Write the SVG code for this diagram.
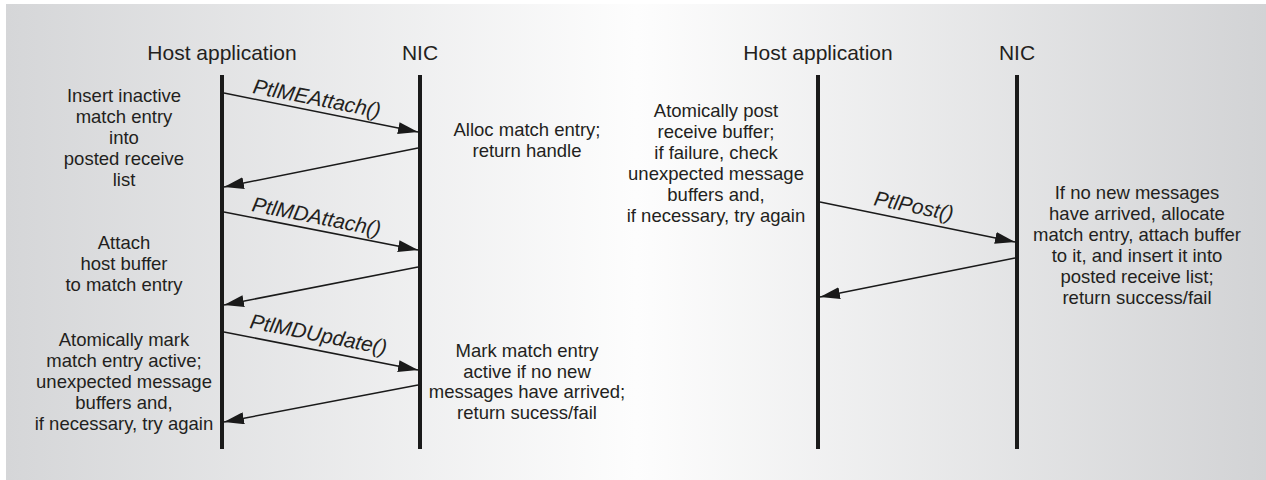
<svg xmlns="http://www.w3.org/2000/svg" width="1266" height="480" viewBox="0 0 1266 480">
  <defs>
    <linearGradient id="bg" x1="0" y1="0" x2="1" y2="0">
      <stop offset="0" stop-color="#d5d6d8"/>
      <stop offset="0.5" stop-color="#fdfdfd"/>
      <stop offset="1" stop-color="#d2d3d5"/>
    </linearGradient>
    <marker id="ah" markerUnits="userSpaceOnUse" markerWidth="20" markerHeight="12" refX="20" refY="6" orient="auto" viewBox="0 0 20 12">
      <path d="M0,0 L20,6 L0,12 Z" fill="#1a1a1a"/>
    </marker>
    <style>
      .hdr { font-family: "Liberation Sans", Arial, sans-serif; font-size: 21px; fill: #231f20; text-anchor: middle; }
      .txt { font-family: "Liberation Sans", Arial, sans-serif; font-size: 18.5px; fill: #231f20; text-anchor: middle; }
      .lbl { font-family: "Liberation Sans", Arial, sans-serif; font-size: 21px; font-style: italic; fill: #231f20; }
      .life { stroke: #1a1a1a; stroke-width: 4; fill: none; }
      .msg { stroke: #1a1a1a; stroke-width: 1.5; fill: none; marker-end: url(#ah); }
    </style>
  </defs>
  <rect x="6" y="4" width="1260" height="476" fill="url(#bg)"/>

  <g id="left-host">
    <text class="hdr" x="222" y="60">Host application</text>
    <line class="life" x1="222" y1="75" x2="222" y2="449"/>
  </g>
  <g id="left-nic">
    <text class="hdr" x="420" y="60">NIC</text>
    <line class="life" x1="420" y1="75" x2="420" y2="449"/>
  </g>
  <g id="right-host">
    <text class="hdr" x="818" y="60">Host application</text>
    <line class="life" x1="818" y1="75" x2="818" y2="449"/>
  </g>
  <g id="right-nic">
    <text class="hdr" x="1017" y="60">NIC</text>
    <line class="life" x1="1017" y1="75" x2="1017" y2="449"/>
  </g>

  <g id="note-insert">
    <text class="txt" x="124" y="102"><tspan x="124">Insert inactive</tspan><tspan x="124" dy="21">match entry</tspan><tspan x="124" dy="21">into</tspan><tspan x="124" dy="21">posted receive</tspan><tspan x="124" dy="21">list</tspan></text>
  </g>
  <g id="note-attach">
    <text class="txt" x="124" y="249"><tspan x="124">Attach</tspan><tspan x="124" dy="21">host buffer</tspan><tspan x="124" dy="21">to match entry</tspan></text>
  </g>
  <g id="note-mark">
    <text class="txt" x="124" y="346"><tspan x="124">Atomically mark</tspan><tspan x="124" dy="21">match entry active;</tspan><tspan x="124" dy="21">unexpected message</tspan><tspan x="124" dy="21">buffers and,</tspan><tspan x="124" dy="21">if necessary, try again</tspan></text>
  </g>
  <g id="note-alloc">
    <text class="txt" x="527" y="136"><tspan x="527">Alloc match entry;</tspan><tspan x="527" dy="21">return handle</tspan></text>
  </g>
  <g id="note-markactive">
    <text class="txt" x="527" y="357"><tspan x="527">Mark match entry</tspan><tspan x="527" dy="20.5">active if no new</tspan><tspan x="527" dy="20.5">messages have arrived;</tspan><tspan x="527" dy="20.5">return sucess/fail</tspan></text>
  </g>
  <g id="note-post">
    <text class="txt" x="716" y="117"><tspan x="716">Atomically post</tspan><tspan x="716" dy="21">receive buffer;</tspan><tspan x="716" dy="21">if failure, check</tspan><tspan x="716" dy="21">unexpected message</tspan><tspan x="716" dy="21">buffers and,</tspan><tspan x="716" dy="21">if necessary, try again</tspan></text>
  </g>
  <g id="note-nopost">
    <text class="txt" x="1137" y="199"><tspan x="1137">If no new messages</tspan><tspan x="1137" dy="21">have arrived, allocate</tspan><tspan x="1137" dy="21">match entry, attach buffer</tspan><tspan x="1137" dy="21">to it, and insert it into</tspan><tspan x="1137" dy="21">posted receive list;</tspan><tspan x="1137" dy="21">return success/fail</tspan></text>
  </g>

  <g id="connectors">
    <line class="msg" x1="224" y1="93" x2="418" y2="132"/>
    <text class="lbl" transform="translate(252,93) rotate(11.1)">PtlMEAttach()</text>
    <line class="msg" x1="418" y1="148" x2="224" y2="187"/>
    <line class="msg" x1="224" y1="212" x2="418" y2="250"/>
    <text class="lbl" transform="translate(251,211) rotate(11.1)">PtlMDAttach()</text>
    <line class="msg" x1="418" y1="267" x2="224" y2="305"/>
    <line class="msg" x1="224" y1="332" x2="418" y2="370"/>
    <text class="lbl" transform="translate(249,328) rotate(11.1)">PtlMDUpdate()</text>
    <line class="msg" x1="418" y1="385" x2="224" y2="422"/>
    <line class="msg" x1="820" y1="202" x2="1015" y2="242"/>
    <text class="lbl" transform="translate(873,205) rotate(11.4)">PtlPost()</text>
    <line class="msg" x1="1015" y1="258" x2="820" y2="297"/>
  </g>
</svg>
